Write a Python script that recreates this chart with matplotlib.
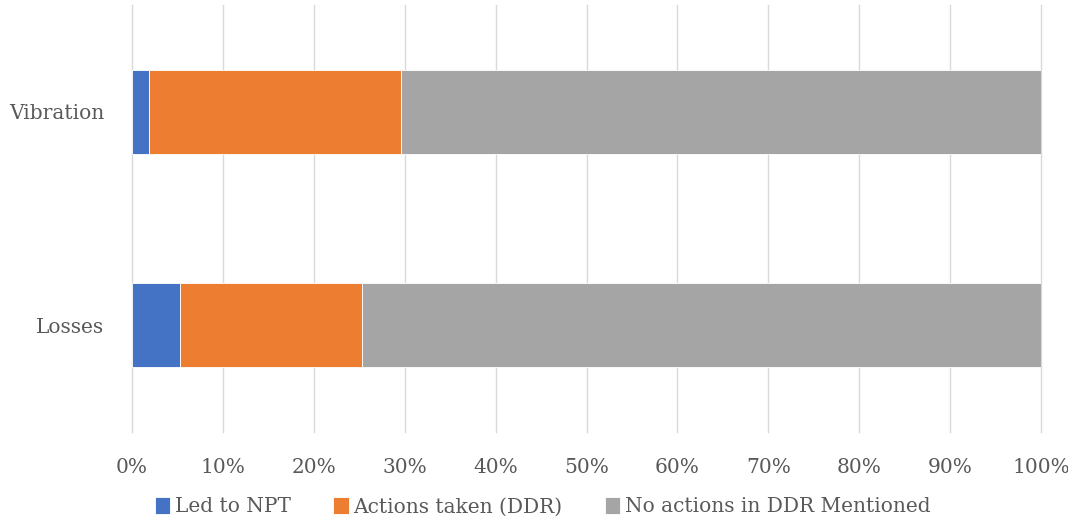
import numpy as np
import matplotlib.pyplot as plt

categories = ["Losses", "Vibration"]
led_to_npt = [5.3, 1.9]
actions_taken = [20.0, 27.7]
no_actions = [74.7, 70.4]

series = [
    ("Led to NPT", led_to_npt, "#4472c4"),
    ("Actions taken (DDR)", actions_taken, "#ed7d31"),
    ("No actions in DDR Mentioned", no_actions, "#a5a5a5"),
]

plt.rcParams['font.family'] = ['DejaVu Serif']
text_col = "#595959"

fig = plt.figure(figsize=(10.68, 5.18), dpi=100)
ax = fig.add_axes([132 / 1068, 1 - 432 / 518, (1041 - 132) / 1068, 427 / 518])

y = np.arange(len(categories))
left = np.zeros(len(categories))
for name, vals, col in series:
    ax.barh(y, vals, left=left, height=0.395, color=col, label=name,
            edgecolor="white", linewidth=0.6, zorder=3)
    left += np.array(vals)

ax.set_xlim(0, 100)
ax.set_ylim(-0.5, 1.5)
ax.set_xticks(np.arange(0, 101, 10))
ax.set_xticklabels([f"{t}%" for t in range(0, 101, 10)])
ax.set_yticks(y)
ax.set_yticklabels(categories)
ax.tick_params(axis="both", length=0, labelsize=14.5, colors=text_col)
ax.tick_params(axis="x", pad=19)
ax.tick_params(axis="y", pad=20)
ax.grid(axis="x", color="#d9d9d9", linewidth=1, zorder=0)
for gl in ax.get_xgridlines():
    gl.set_clip_on(False)
for s in ax.spines.values():
    s.set_visible(False)

ax.legend(loc="center", bbox_to_anchor=(0.452, -0.175), ncol=3, frameon=False,
          fontsize=14.5, labelcolor=text_col, handlelength=0.75, handleheight=0.9,
          handletextpad=0.25, columnspacing=2.1, borderaxespad=0)

fig.savefig("out.png", dpi=100)
